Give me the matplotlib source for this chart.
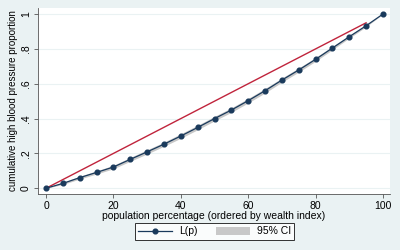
import matplotlib
matplotlib.use("Agg")
import matplotlib.pyplot as plt
import numpy as np

plt.rcParams["font.family"] = ["Liberation Sans", "DejaVu Sans"]

# data
pop = [0, 5, 10, 15, 20, 25, 30, 35, 40, 45, 50, 55, 60, 65, 70, 75, 80, 85, 90, 95, 100]
lp = [0, 0.028, 0.061, 0.091, 0.122, 0.166, 0.209, 0.253, 0.300, 0.349, 0.400,
      0.449, 0.503, 0.560, 0.621, 0.679, 0.740, 0.805, 0.870, 0.933, 1.0]
ci_halfwidth = [0, 0.006, 0.008, 0.009, 0.010, 0.011, 0.012, 0.012, 0.013, 0.013, 0.013,
                0.013, 0.013, 0.013, 0.012, 0.012, 0.011, 0.010, 0.008, 0.006, 0]
equality_x = [0, 95]
equality_y = [0, 0.95]
yticks = [0, 0.2, 0.4, 0.6, 0.8, 1.0]
ytick_labels = ["0", ".2", ".4", ".6", ".8", "1"]
xticks = [0, 20, 40, 60, 80, 100]

bg = "#eaf2f3"
navy = "#1a3a5c"

fig = plt.figure(figsize=(4, 2.5), dpi=100, facecolor=bg)
ax = fig.add_axes([0.095, 0.224, 0.88, 0.744])
ax.set_facecolor("white")

lo = np.array(lp) - np.array(ci_halfwidth)
hi = np.array(lp) + np.array(ci_halfwidth)
ax.fill_between(pop, lo, hi, color="#c8c8c8", linewidth=0, label="95% CI", zorder=2)
ax.plot(equality_x, equality_y, color="#c0243c", linewidth=1.0, zorder=3)
ax.plot(pop, lp, color=navy, linewidth=0.9, marker="o", markersize=3.4,
        markerfacecolor=navy, markeredgecolor=navy, label="L(p)", zorder=4)

ax.set_xlim(-2.4, 102.1)
ax.set_ylim(-0.033, 1.035)
ax.set_xticks(xticks)
ax.set_yticks(yticks)
ax.set_yticklabels(ytick_labels, rotation=90, va="center")
ax.tick_params(labelsize=7.5, length=3, width=0.6, color="#555555", pad=2)
ax.grid(True, axis="y", color="#eaf2f3", linewidth=0.8)
ax.set_axisbelow(True)
for s in ["top", "right"]:
    ax.spines[s].set_visible(False)
for s in ["left", "bottom"]:
    ax.spines[s].set_color("#555555")
    ax.spines[s].set_linewidth(0.6)

ax.set_xlabel("population percentage (ordered by wealth index)", fontsize=7.5, labelpad=0)
ax.set_ylabel("cumulative high blood pressure proportion", fontsize=7, labelpad=2)

h, l = ax.get_legend_handles_labels()
leg = fig.legend([h[1], h[0]], [l[1], l[0]], loc="center", bbox_to_anchor=(0.537, 0.074),
                 ncol=2, fontsize=7.5, frameon=True, fancybox=False, edgecolor="black",
                 handlelength=3.2, columnspacing=1.8, borderpad=0.3, handletextpad=0.7)
leg.get_frame().set_linewidth(0.7)
leg.get_frame().set_facecolor("white")

fig.savefig("out.png", dpi=100, facecolor=bg)
